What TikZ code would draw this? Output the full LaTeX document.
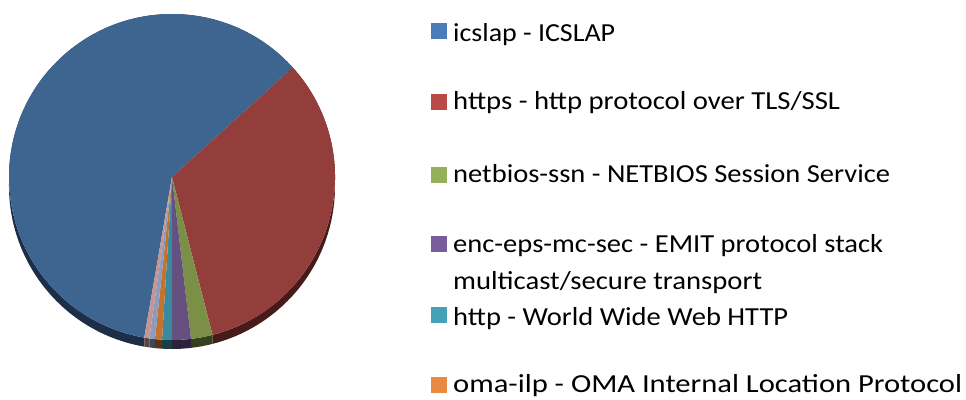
\documentclass[tikz,border=0pt]{standalone}
\usepackage{fontspec}
\setmainfont{Carlito}
\usetikzlibrary{calc}
\newcommand\fitw[2]{\setbox0\hbox{#2}\pgfmathsetmacro\myscx{#1/\the\wd0}\scalebox{\myscx}[1]{\box0}}
\begin{document}
\begin{tikzpicture}[x=1pt,y=1pt,
  legtext/.style={anchor=base west,inner sep=0pt,font=\fontsize{26}{30}\selectfont,text=black},
  legbox/.style={minimum width=16pt,minimum height=16pt,inner sep=0pt}]
\useasboundingbox (0,0) rectangle (966,399);
\definecolor{cBlue}{HTML}{3D6590}\definecolor{sBlue}{HTML}{1C2E48}\definecolor{lBlue}{HTML}{4A7DB8}
\definecolor{cRed}{HTML}{943E3C}\definecolor{sRed}{HTML}{461B1A}\definecolor{lRed}{HTML}{B84A47}
\definecolor{cGreen}{HTML}{7B9046}\definecolor{sGreen}{HTML}{35401E}\definecolor{lGreen}{HTML}{93B257}
\definecolor{cPurple}{HTML}{65507F}\definecolor{sPurple}{HTML}{2C223A}\definecolor{lPurple}{HTML}{785D99}
\definecolor{cTeal}{HTML}{3A8A9F}\definecolor{sTeal}{HTML}{1A3E48}\definecolor{lTeal}{HTML}{46A0B8}
\definecolor{cOrange}{HTML}{C4732F}\definecolor{sOrange}{HTML}{5A3414}\definecolor{lOrange}{HTML}{E98A43}
\definecolor{cLBlue}{HTML}{8B9CBF}\definecolor{sLBlue}{HTML}{3E4658}
\definecolor{cPink}{HTML}{C49592}\definecolor{sPink}{HTML}{5A4342}
\def\R{163}\def\D{9}
\coordinate (c) at (172,222);
% side walls
\foreach \a/\b/\col in {42.2/260.2/sBlue,-75.6/42.2/sRed,-83.3/-75.6/sGreen,-90/-83.3/sPurple,-93.5/-90/sTeal,-96/-93.5/sOrange,-98/-96/sLBlue,-99.8/-98/sPink}{
  \fill[\col] ($(c)+(\a:\R)$) arc[start angle=\a,end angle=\b,radius=\R] -- ++(0,-\D) arc[start angle=\b,end angle=\a,radius=\R] -- cycle;
}
% top faces
\foreach \a/\b/\col in {42.2/260.2/cBlue,-75.6/42.2/cRed,-83.3/-75.6/cGreen,-90/-83.3/cPurple,-93.5/-90/cTeal,-96/-93.5/cOrange,-98/-96/cLBlue,-99.8/-98/cPink}{
  \fill[\col] (c) -- ($(c)+(\a:\R)$) arc[start angle=\a,end angle=\b,radius=\R] -- cycle;
}
% legend
\node[legbox,fill=lBlue] (b1) at (439,368) {};
\node[legtext] (t1) at (453,357) {\fitw{162}{icslap - ICSLAP}};
\node[legbox,fill=lRed] (b2) at (439,297) {};
\node[legtext] (t2) at (453,289) {\fitw{387}{https - http protocol over TLS/SSL}};
\node[legbox,fill=lGreen] (b3) at (439,224) {};
\node[legtext] (t3) at (453,216) {\fitw{437}{netbios-ssn - NETBIOS Session Service}};
\node[legbox,fill=lPurple] (b4) at (439,155) {};
\node[legtext] (t4) at (453,146) {\fitw{430}{enc-eps-mc-sec - EMIT protocol stack}};
\node[legtext] (t4b) at (453,109) {\fitw{309}{multicast/secure transport}};
\node[legbox,fill=lTeal] (b5) at (439,84) {};
\node[legtext] (t5) at (453,74) {\fitw{335}{http - World Wide Web HTTP}};
\node[legbox,fill=lOrange] (b6) at (439,14) {};
\node[legtext] (t6) at (453,7) {\fitw{509}{oma-ilp - OMA Internal Location Protocol}};
\end{tikzpicture}
\end{document}
